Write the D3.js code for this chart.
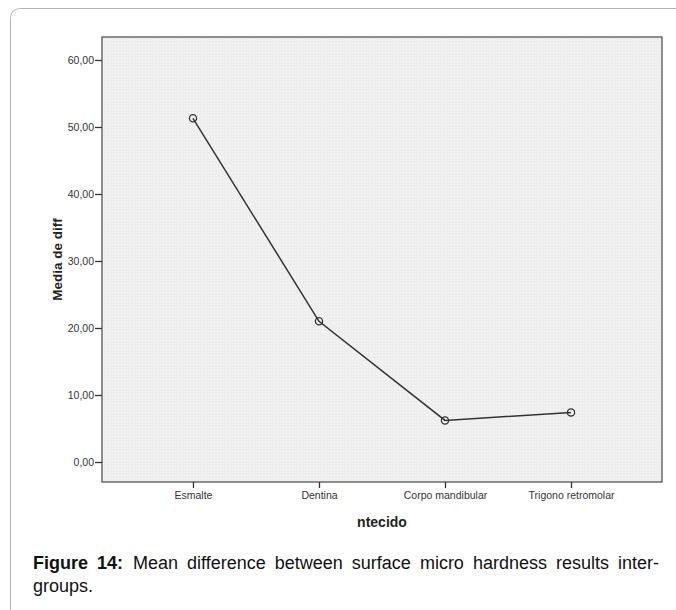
<!DOCTYPE html>
<html>
<head>
<meta charset="utf-8">
<script src="https://cdn.jsdelivr.net/npm/d3@7"></script>
<style>
  body { margin: 0; background: #fff; }
  svg { display: block; }
</style>
</head>
<body>
<div id="wrapper"></div>
<script>
// data
const categories = ["Esmalte", "Dentina", "Corpo mandibular", "Trigono retromolar"];
const meanDiff = [51.3, 21.0, 6.2, 7.4];
const yTicks = [0, 10, 20, 30, 40, 50, 60];

let dimensions = {
    width: 676,
    height: 610,
    plot: { left: 102, top: 37, right: 662, bottom: 482 }
}

let wrapper = d3.select("#wrapper").append("svg")
    .attr("width", dimensions.width)
    .attr("height", dimensions.height);

// outer frame of the figure box
wrapper.append("rect")
    .attr("x", 10.5)
    .attr("y", 8.5)
    .attr("width", 700)
    .attr("height", 640)
    .attr("rx", 9)
    .attr("fill", "none")
    .attr("stroke", "#b5b5b5")
    .attr("stroke-width", 1);

// dotted grey plot background
let defs = wrapper.append("defs");
let pat = defs.append("pattern")
    .attr("id", "dots")
    .attr("width", 3)
    .attr("height", 3)
    .attr("patternUnits", "userSpaceOnUse");
pat.append("rect").attr("width", 3).attr("height", 3).attr("fill", "#eeeeee");
pat.append("rect").attr("x", 1).attr("y", 1).attr("width", 1).attr("height", 1).attr("fill", "#f9f9f9");

const p = dimensions.plot;

const xScaler = d3.scalePoint()
    .domain(categories)
    .range([p.left, p.right])
    .padding(0.722);

const yScaler = d3.scaleLinear()
    .domain([-2.985, 63.43])
    .range([p.bottom, p.top]);

wrapper.append("rect")
    .attr("x", p.left)
    .attr("y", p.top)
    .attr("width", p.right - p.left)
    .attr("height", p.bottom - p.top)
    .attr("fill", "url(#dots)")
    .attr("stroke", "#555")
    .attr("stroke-width", 1.3);

// y axis
let yAxisGen = d3.axisLeft(yScaler)
    .tickValues(yTicks)
    .tickSize(7)
    .tickPadding(1)
    .tickFormat(d => d3.format(".2f")(d).replace(".", ","));
const axisY = wrapper.append("g")
    .attr("transform", `translate(${p.left}, 0)`)
    .call(yAxisGen);
axisY.select(".domain").remove();
axisY.selectAll(".tick line").attr("stroke", "#333").attr("stroke-width", 1.3);
axisY.selectAll(".tick text")
    .attr("fill", "#333")
    .style("font-family", "Arial, 'Liberation Sans', sans-serif")
    .style("font-size", "10.5px");

// x axis
let xAxisGen = d3.axisBottom(xScaler)
    .tickSize(6)
    .tickPadding(4);
const axisX = wrapper.append("g")
    .attr("transform", `translate(0, ${p.bottom})`)
    .call(xAxisGen);
axisX.select(".domain").remove();
axisX.selectAll(".tick line").attr("stroke", "#333").attr("stroke-width", 1.3);
axisX.selectAll(".tick text")
    .attr("fill", "#333")
    .style("font-family", "Arial, 'Liberation Sans', sans-serif")
    .style("font-size", "10.5px");

// line + markers
const points = categories.map((c, i) => ({ cat: c, val: meanDiff[i] }));

wrapper.append("path")
    .datum(points)
    .attr("fill", "none")
    .attr("stroke", "#333")
    .attr("stroke-width", 1.5)
    .attr("d", d3.line().x(d => xScaler(d.cat)).y(d => yScaler(d.val)));

wrapper.selectAll("circle.pt")
    .data(points)
    .enter()
    .append("circle")
    .attr("class", "pt")
    .attr("cx", d => xScaler(d.cat))
    .attr("cy", d => yScaler(d.val))
    .attr("r", 3.6)
    .attr("fill", "none")
    .attr("stroke", "#333")
    .attr("stroke-width", 1.3);

// axis titles
wrapper.append("text") //X label
    .attr("x", (p.left + p.right) / 2)
    .attr("y", 527)
    .attr("text-anchor", "middle")
    .attr("fill", "#222")
    .style("font-family", "Arial, 'Liberation Sans', sans-serif")
    .style("font-weight", "bold")
    .style("font-size", "14px")
    .text("ntecido");

wrapper.append("text") //Y label
    .attr("text-anchor", "middle")
    .attr("transform", `translate(62, ${(p.top + p.bottom) / 2}) rotate(-90)`)
    .attr("fill", "#222")
    .style("font-family", "Arial, 'Liberation Sans', sans-serif")
    .style("font-weight", "bold")
    .style("font-size", "13.5px")
    .text("Media de diff");

// caption, first line justified to the box width
const captionX = 33, captionRight = 663;
const caption = wrapper.append("text")
    .attr("x", captionX)
    .attr("y", 569)
    .attr("fill", "#111")
    .style("font-family", "Arial, 'Liberation Sans', sans-serif")
    .style("font-size", "18px");
caption.append("tspan").style("font-weight", "bold").text("Figure 14:");
caption.append("tspan").attr("dx", 10).text("Mean difference between surface micro hardness results inter-");
const natural = caption.node().getComputedTextLength() + 10;
const extra = Math.max(0, (captionRight - captionX - natural) / 9);
caption.style("word-spacing", extra + "px");

wrapper.append("text")
    .attr("x", captionX)
    .attr("y", 592)
    .attr("fill", "#111")
    .style("font-family", "Arial, 'Liberation Sans', sans-serif")
    .style("font-size", "18px")
    .text("groups.");
</script>
</body>
</html>
